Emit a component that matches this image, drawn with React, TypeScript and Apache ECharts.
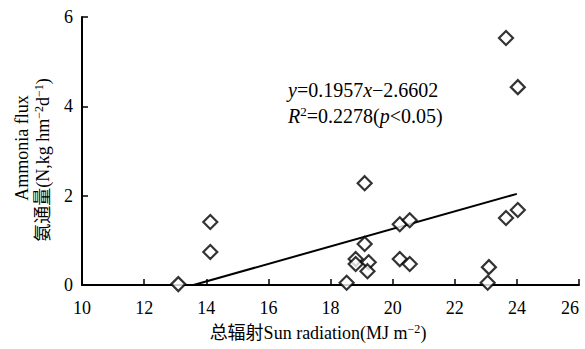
import React, { useEffect, useRef } from "react";
import * as echarts from "echarts";

const radiation = [13.1, 14.13, 14.13, 18.52, 18.81, 18.81, 19.1, 19.23, 19.19, 19.1, 20.23, 20.55, 20.23, 20.55, 23.06, 23.1, 23.65, 24.03, 23.65, 24.03];
const ammonia = [0.02, 1.41, 0.74, 0.05, 0.58, 0.47, 0.92, 0.51, 0.31, 2.28, 1.36, 1.45, 0.58, 0.47, 0.05, 0.4, 5.53, 4.43, 1.5, 1.68];
const fitX = [13.59, 24.0];
const fitY = [0.0, 2.04];
const xTicks = [10, 12, 14, 16, 18, 20, 22, 24, 26];
const yTicks = [0, 2, 4, 6];

const SERIF = "'Liberation Serif', 'Times New Roman', 'Noto Sans CJK SC', serif";

export default function App() {
  const ref = useRef<HTMLDivElement>(null);
  useEffect(() => {
    if (!ref.current) return;
    const chart = echarts.init(ref.current, null, { renderer: "svg" });
    const pts = radiation.map((x, i) => [x, ammonia[i]]);
    const fit = fitX.map((x, i) => [x, fitY[i]]);
    chart.setOption({
      animation: false,
      backgroundColor: "#ffffff",
      grid: { left: 82, right: 6, top: 17, bottom: 64 },
      xAxis: {
        type: "value",
        min: xTicks[0],
        max: xTicks[xTicks.length - 1],
        interval: 2,
        axisLine: { show: true, lineStyle: { color: "#000", width: 2 } },
        axisTick: { show: true, inside: true, length: 6, lineStyle: { color: "#000", width: 1.5 } },
        axisLabel: { color: "#000", fontFamily: SERIF, fontSize: 18, margin: 14, alignMaxLabel: "right" },
        splitLine: { show: false },
      },
      yAxis: {
        type: "value",
        min: yTicks[0],
        max: yTicks[yTicks.length - 1],
        interval: 2,
        axisLine: { show: true, lineStyle: { color: "#000", width: 2 } },
        axisTick: { show: true, inside: true, length: 6, lineStyle: { color: "#000", width: 1.5 } },
        axisLabel: { color: "#000", fontFamily: SERIF, fontSize: 18, margin: 9 },
        splitLine: { show: false },
      },
      series: [
        {
          type: "line",
          data: fit,
          symbol: "none",
          lineStyle: { color: "#000", width: 2 },
          z: 2,
        },
        {
          type: "scatter",
          data: pts,
          symbol: "diamond",
          symbolSize: [14, 14],
          itemStyle: { color: "#fff", borderColor: "#000", borderWidth: 2.2 },
          z: 3,
        },
      ],
      graphic: [
        {
          type: "text",
          left: 288,
          top: 80,
          style: {
            text: "{i|y}=0.1957{i|x}\u22122.6602",
            fontFamily: SERIF,
            fontSize: 20,
            fill: "#000",
            rich: {
              i: { fontFamily: SERIF, fontSize: 20, fontStyle: "italic" },
            },
          },
        },
        {
          type: "text",
          left: 288,
          top: 105,
          style: {
            text: "{i|R}{sup|2}=0.2278({i|p}<0.05)",
            fontFamily: SERIF,
            fontSize: 20,
            fill: "#000",
            rich: {
              i: { fontFamily: SERIF, fontSize: 20, fontStyle: "italic" },
              sup: { fontFamily: SERIF, fontSize: 13, verticalAlign: "top", padding: [0, 0, 8, 0] },
            },
          },
        },
        {
          type: "text",
          x: 318,
          y: 333,
          style: {
            text: "总辐射Sun radiation(MJ m{sup|\u22122})",
            fontFamily: SERIF,
            fontSize: 18,
            fill: "#000",
            align: "center",
            verticalAlign: "middle",
            rich: {
              sup: { fontFamily: SERIF, fontSize: 12, padding: [0, 0, 9, 0] },
            },
          },
        },
        {
          type: "text",
          x: 22,
          y: 148,
          rotation: Math.PI / 2,
          style: {
            text: "Ammonia flux",
            fontFamily: SERIF,
            fontSize: 18,
            fill: "#000",
            align: "center",
            verticalAlign: "middle",
          },
        },
        {
          type: "text",
          x: 43,
          y: 160,
          rotation: Math.PI / 2,
          style: {
            text: "氨通量(N,kg hm{sup|\u22122}d{sup|\u22121})",
            fontFamily: SERIF,
            fontSize: 18,
            fill: "#000",
            align: "center",
            verticalAlign: "middle",
            rich: {
              sup: { fontFamily: SERIF, fontSize: 12, padding: [0, 0, 9, 0] },
            },
          },
        },
      ],
    });
    return () => chart.dispose();
  }, []);
  return <div ref={ref} style={{ position: "absolute", left: 0, top: 0, width: 585, height: 349 }} />;
}
